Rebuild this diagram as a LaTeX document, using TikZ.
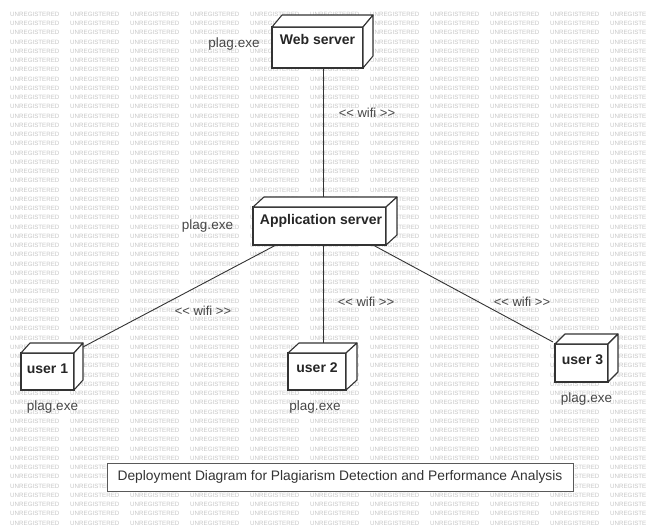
\documentclass[tikz,border=0pt]{standalone}
\usepackage{fontspec}
\setmainfont{Liberation Sans}
\usetikzlibrary{calc}

% one row of the background stamp (the last word runs into the page edge)
\newcommand\wmword{\makebox[60pt][l]{UNREGISTERED}}
\newcommand\wmrow{\wmword\wmword\wmword\wmword\wmword\wmword\wmword\wmword\wmword\wmword UNREGISTE}

% stereotype brackets, kept apart so they stay two characters
\newcommand\stl{<\kern0pt<}
\newcommand\str{>\kern0pt>}

% top and right faces of a deployment node (#1 = node, #2/#3 = depth offsets)
\newcommand\cubefaces[3]{%
  \filldraw[cubeface] (#1.north west) -- ++(#2,-#3) -- ($(#1.north east)+(#2,-#3)$) -- (#1.north east) -- cycle;
  \filldraw[cubeface] (#1.north east) -- ($(#1.north east)+(#2,-#3)$) -- ($(#1.south east)+(#2,-#3)$) -- (#1.south east) -- cycle;
}

\begin{document}
\begin{tikzpicture}[x=1pt,y=-1pt,
  wm/.style={text=black!22, font=\fontsize{6.2}{7}\selectfont, inner sep=0pt},
  cubebox/.style={draw=black!80, fill=white, line width=1.1pt, inner sep=0pt, outer sep=0pt},
  cubeface/.style={draw=black!80, fill=white, line width=1.1pt, line join=round},
  boxlbl/.style={font=\fontsize{14}{16}\selectfont\bfseries, text=black!85, inner sep=0pt},
  exelbl/.style={font=\fontsize{13.5}{16}\selectfont, text=black!72, inner sep=0pt},
  linklbl/.style={font=\fontsize{13}{16}\selectfont, text=black!72, inner sep=0pt},
  link/.style={draw=black!80, line width=0.9pt},
  titlebox/.style={draw=black!65, fill=white, line width=0.9pt, inner sep=0pt,
    minimum width=466pt, minimum height=28pt, font=\fontsize{13.8}{16}\selectfont, text=black!80}
]
\useasboundingbox (0,0) rectangle (647,531);
\fill[white] (0,0) rectangle (647,531);

% background stamp
\begin{scope}
  \clip (0,0) rectangle (647,531);
  \foreach \r in {0,...,55} {
    \node[wm, anchor=base west] (wm\r) at (10,{16.3+9.25*\r}) {\wmrow};
  }
\end{scope}

% deployment nodes (front faces)
\node[cubebox, minimum width=91pt, minimum height=41pt] (web) at (317.5,47.5) {};
\node[cubebox, minimum width=133pt, minimum height=38pt] (app) at (319.5,226) {};
\node[cubebox, minimum width=53pt, minimum height=37pt] (u1) at (47.5,371.5) {};
\node[cubebox, minimum width=58pt, minimum height=37pt] (u2) at (317,371.5) {};
\node[cubebox, minimum width=53pt, minimum height=38pt] (u3) at (581.5,363) {};

% connectors
\draw[link] ($(web.south)+(5.5,0)$) -- ($(app.north)+(3.5,-10)$);
\draw[link] ($(app.south)+(3.5,0)$) -- ($(u2.north)+(6,-10)$);
\draw[link] ($(app.south west)+(23,0)$) -- ($(u1.north east)+(9,-6)$);
\draw[link] ($(app.south east)+(-13,0)$) -- ($(u3.north west)+(-2,-2)$);

% node bodies drawn again over the connector ends
\node[cubebox, minimum width=91pt, minimum height=41pt] at (web) {};
\node[cubebox, minimum width=133pt, minimum height=38pt] at (app) {};
\node[cubebox, minimum width=53pt, minimum height=37pt] at (u1) {};
\node[cubebox, minimum width=58pt, minimum height=37pt] at (u2) {};
\node[cubebox, minimum width=53pt, minimum height=38pt] at (u3) {};
\cubefaces{web}{10}{12}
\cubefaces{app}{11}{10}
\cubefaces{u1}{9}{10}
\cubefaces{u2}{11}{10}
\cubefaces{u3}{10}{10}

% node names
\node[boxlbl, anchor=base] (webtxt) at ($(web.north)+(0,17)$) {Web server};
\node[boxlbl, anchor=base] (apptxt) at ($(app.north)+(1.5,17)$) {Application server};
\node[boxlbl, anchor=base] (u1txt) at ($(u1.north)+(0,20)$) {user 1};
\node[boxlbl, anchor=base] (u2txt) at ($(u2.north)+(0,19)$) {user 2};
\node[boxlbl, anchor=base] (u3txt) at ($(u3.north)+(1,20)$) {user 3};

% artifacts
\node[exelbl, anchor=base] (webexe) at (234,47) {plag.exe};
\node[exelbl, anchor=base] (appexe) at (207.5,229) {plag.exe};
\node[exelbl, anchor=base] (u1exe) at (52.5,410) {plag.exe};
\node[exelbl, anchor=base] (u2exe) at (315,410) {plag.exe};
\node[exelbl, anchor=base] (u3exe) at (586.5,402) {plag.exe};

% link stereotypes
\node[linklbl, anchor=base] (w1) at (367,117) {\stl{} wifi \str};
\node[linklbl, anchor=base] (w2) at (203,315) {\stl{} wifi \str};
\node[linklbl, anchor=base] (w3) at (366,306) {\stl{} wifi \str};
\node[linklbl, anchor=base] (w4) at (522,306) {\stl{} wifi \str};

% caption
\node[titlebox] (title) at (340,477) {Deployment Diagram for Plagiarism Detection and Performance Analysis};
\end{tikzpicture}
\end{document}
